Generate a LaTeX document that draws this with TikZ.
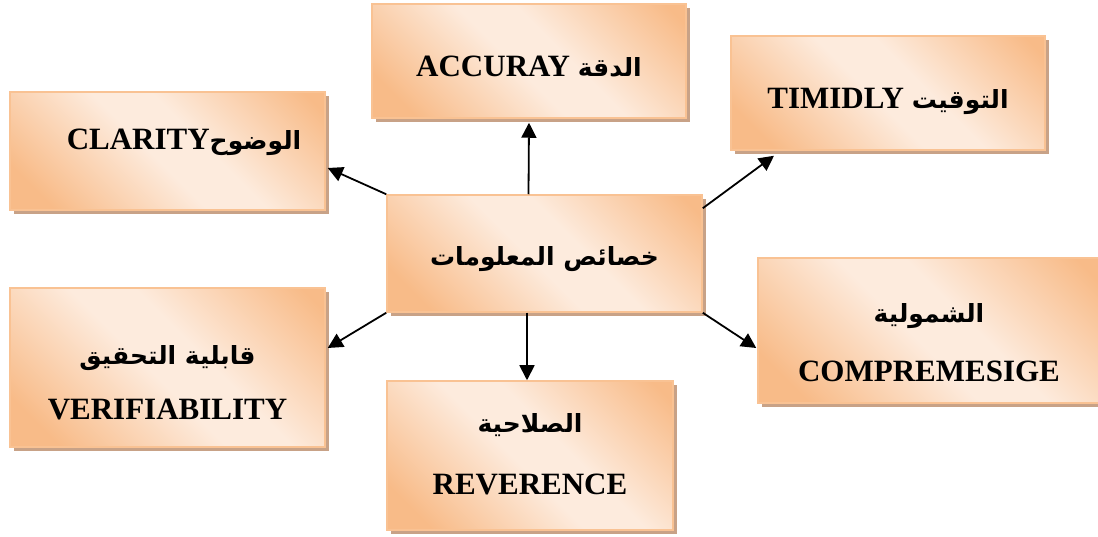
\documentclass[tikz,border=0pt]{standalone}
\usepackage{fontspec}
\setmainfont{Liberation Serif}
\newfontfamily\arabicfont[Script=Arabic]{DejaVu Sans}
\TeXXeTstate=1
\usepackage{xcolor}
\usepackage{tikz}
\usetikzlibrary{arrows.meta,shadows}
\definecolor{peachDark}{HTML}{F8BB88}
\definecolor{peachLight}{HTML}{FDEBDD}
\definecolor{peachEdge}{HTML}{F9C293}
\definecolor{peachShadow}{HTML}{C8A287}
\pgfdeclareverticalshading{peachglow}{100bp}{color(0bp)=(peachDark); color(22bp)=(peachDark);
  color(47bp)=(peachLight); color(57bp)=(peachLight); color(82bp)=(peachDark); color(100bp)=(peachDark)}
\newcommand{\artext}[1]{{\arabicfont\fontsize{25}{30}\selectfont\beginR #1\endR}}
% text of a box, lowered or raised without changing the box
\newcommand{\boxlabel}[2]{\raisebox{#1}[0pt][0pt]{\begin{tabular}{@{}c@{}}#2\end{tabular}}}
\tikzset{
  >=Triangle,
  font=\bfseries\fontsize{31}{37}\selectfont,
  infobox/.style={
    draw=peachEdge,
    line width=1.5pt,
    shading=peachglow,
    shading angle=-45,
    drop shadow={shadow xshift=4pt,shadow yshift=-4pt,fill=peachShadow,opacity=1},
    align=center,
    inner sep=0pt
  },
  arrow/.style={
    -{Triangle[length=15pt,width=15pt]},
    line width=1.8pt,
    draw=black
  }
}
\begin{document}
\begin{tikzpicture}[x=1pt,y=-1pt]
\useasboundingbox (0,0) rectangle (1098,537);

\node[infobox, minimum width=314pt, minimum height=114pt] (accuracy) at (529,61)
{\boxlabel{-14pt}{ACCURAY \artext{الدقة}}};
\node[infobox, minimum width=314pt, minimum height=114pt] (timely) at (888,93)
{\boxlabel{-14pt}{TIMIDLY \artext{التوقيت}}};
\node[infobox, minimum width=315pt, minimum height=118pt] (clarity) at (167.5,151)
{\boxlabel{3pt}{\hspace*{33pt}CLARITY\artext{الوضوح}}};
\node[infobox, minimum width=315pt, minimum height=117pt] (center) at (544.5,253.5)
{\boxlabel{-11pt}{\artext{خصائص المعلومات}}};
\node[infobox, minimum width=315pt, minimum height=159pt] (verif) at (167.5,367.5)
{\boxlabel{-23.5pt}{\artext{قابلية التحقيق}\\[18pt] VERIFIABILITY}};
\node[infobox, minimum width=286pt, minimum height=149pt] (relevance) at (530,455.5)
{\boxlabel{-6.5pt}{\artext{الصلاحية}\\[25pt] REVERENCE}};
\node[infobox, minimum width=342pt, minimum height=145pt] (compre) at (929,330.5)
{\boxlabel{-20pt}{\artext{الشمولية}\\[22pt] COMPREMESIGE}};

\draw[arrow] ([xshift=-16pt]center.north) -- ([yshift=-4pt]accuracy.south);
\draw[arrow] (center.north west) -- ([xshift=2pt,yshift=-17pt]clarity.east);
\draw[arrow] (center.south west) -- ([xshift=2pt,yshift=19.5pt]verif.east);
\draw[arrow] ([xshift=-17.5pt]center.south) -- ([xshift=-3pt]relevance.north);
\draw[arrow] ([yshift=-14pt]center.north east) -- ([xshift=-114pt,yshift=-5pt]timely.south);
\draw[arrow] (center.south east) -- ([xshift=-1pt,yshift=-17.5pt]compre.west);

\end{tikzpicture}
\end{document}
